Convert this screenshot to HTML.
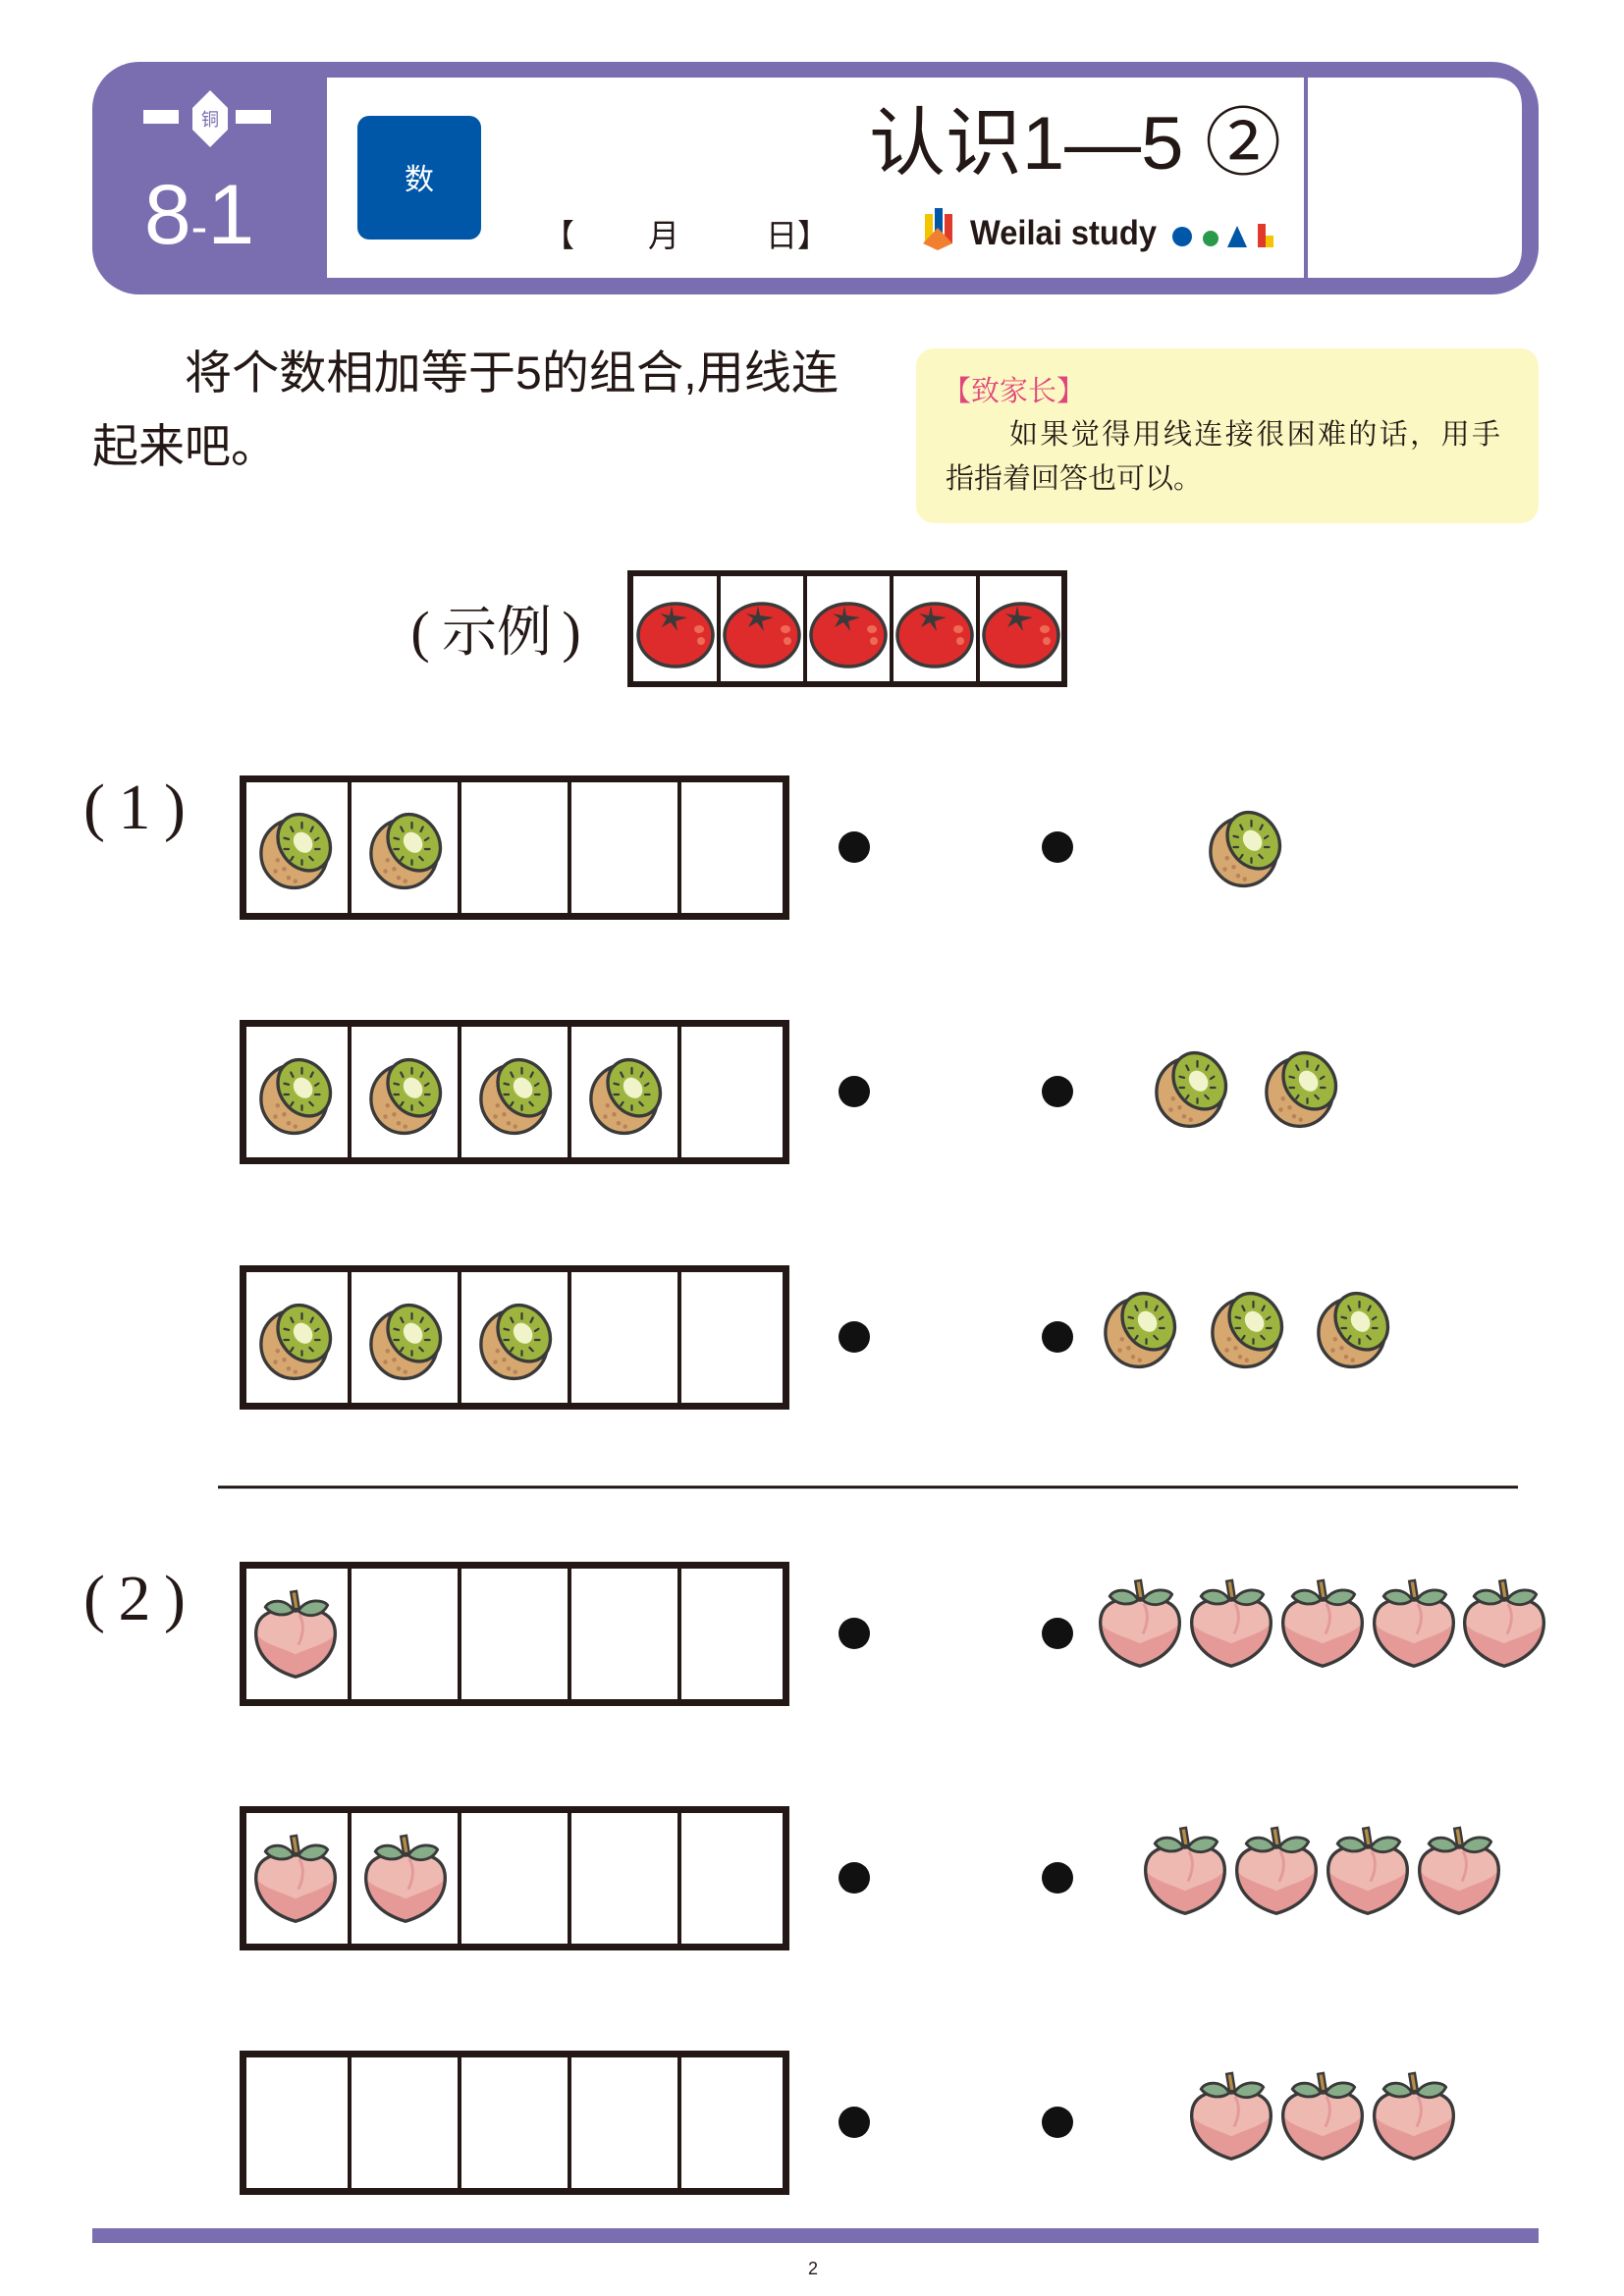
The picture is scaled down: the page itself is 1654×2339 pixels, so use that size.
<!DOCTYPE html>
<html><head><meta charset="utf-8"><style>
html,body{margin:0;padding:0;background:#fff}
svg{display:block}
text{font-family:"Liberation Sans","Noto Sans CJK SC",sans-serif}
.serif{font-family:"Liberation Serif","Noto Serif CJK SC",serif}
</style></head><body>
<svg width="1654" height="2339" viewBox="0 0 1654 2339" xmlns="http://www.w3.org/2000/svg">
<defs>
<symbol id="kiwi" viewBox="-40 -40 80 80" overflow="visible">
 <ellipse cx="-3" cy="4" rx="30" ry="31" fill="#d6a870" stroke="#3a3a3a" stroke-width="3"/>
 <g fill="#b8825a"><circle cx="-18" cy="10" r="2"/><circle cx="-12" cy="18" r="2"/><circle cx="-20" cy="20" r="2"/><circle cx="-8" cy="26" r="2"/><circle cx="-2" cy="29" r="2"/></g>
 <ellipse cx="6" cy="-6" rx="22" ry="27" transform="rotate(-35 6 -6)" fill="#9db53f" stroke="#3a3a3a" stroke-width="3"/>
 <ellipse cx="5" cy="-6" rx="8" ry="10" transform="rotate(-35 5 -6)" fill="#f1f4cb"/>
 <g stroke="#3a3a3a" stroke-width="2" stroke-linecap="round">
  <line x1="-6" y1="-20" x2="-4" y2="-16"/><line x1="4" y1="-24" x2="4" y2="-19"/><line x1="14" y1="-20" x2="12" y2="-16"/><line x1="19" y1="-10" x2="16" y2="-8"/><line x1="20" y1="0" x2="16" y2="0"/><line x1="14" y1="10" x2="11" y2="7"/><line x1="4" y1="14" x2="4" y2="10"/><line x1="-6" y1="10" x2="-4" y2="7"/><line x1="-12" y1="0" x2="-8" y2="0"/><line x1="-12" y1="-10" x2="-8" y2="-9"/>
 </g>
</symbol>
<symbol id="peach" viewBox="-50 -50 100 100" overflow="visible">
 <path d="M0,44 C-28,36 -42,18 -42,-2 C-42,-24 -22,-30 0,-26 C22,-30 42,-24 42,-2 C42,18 28,36 0,44Z" fill="#e69a98"/>
 <path d="M-42,-2 C-42,-24 -22,-30 0,-26 C22,-30 42,-24 42,-2 C36,8 18,12 0,20 C-18,12 -36,8 -42,-2Z" fill="#edb9b0"/>
 <path d="M0,44 C-28,36 -42,18 -42,-2 C-42,-24 -22,-30 0,-26 C22,-30 42,-24 42,-2 C42,18 28,36 0,44Z" fill="none" stroke="#3a3a3a" stroke-width="3.5"/>
 <path d="M4,-22 C10,-12 8,0 3,10" stroke="#e39a9a" stroke-width="3" fill="none"/>
 <path d="M-2,-28 L-5,-46 L1,-47 L4,-28Z" fill="#b68c45" stroke="#3a3a3a" stroke-width="2.5"/>
 <path d="M-2,-26 C-10,-40 -28,-38 -32,-30 C-24,-20 -10,-20 -2,-26Z" fill="#86ac88" stroke="#3a3a3a" stroke-width="3"/>
 <path d="M3,-26 C12,-40 30,-38 34,-32 C28,-20 12,-18 3,-26Z" fill="#86ac88" stroke="#3a3a3a" stroke-width="3"/>
</symbol>
<symbol id="tomato" viewBox="-40 -35 80 70" overflow="visible">
 <ellipse cx="0" cy="0" rx="38" ry="32" fill="#de2c2c" stroke="#3a3a3a" stroke-width="3.5"/>
 <path d="M-4,-30 L-2,-20 L12,-18 L0,-14 L2,-4 L-5,-13 L-14,-8 L-9,-17 L-16,-22 L-6,-20Z" fill="#3a3a3a"/>
 <ellipse cx="24" cy="-6" rx="5" ry="4" fill="#ee6a55"/><ellipse cx="26" cy="6" rx="4" ry="4" fill="#ee6a55"/>
</symbol>
<g id="frame">
 <rect x="247.5" y="3.5" width="553" height="140" fill="#fff" stroke="#231815" stroke-width="7"/>
 <g stroke="#231815" stroke-width="4"><line x1="356" y1="4" x2="356" y2="144"/><line x1="468" y1="4" x2="468" y2="144"/><line x1="580" y1="4" x2="580" y2="144"/><line x1="692" y1="4" x2="692" y2="144"/></g>
 <circle cx="870" cy="73" r="16" fill="#111"/><circle cx="1077" cy="73" r="16" fill="#111"/>
</g>
</defs>

<!-- header -->
<rect x="94" y="63" width="1473" height="237" rx="48" fill="#7a6eb0"/>
<path d="M333,79 H1520 Q1550,79 1550,109 V253 Q1550,283 1520,283 H333Z" fill="#fff"/>
<line x1="1330" y1="79" x2="1330" y2="283" stroke="#7a6eb0" stroke-width="4"/>
<g fill="#fff"><rect x="146" y="112" width="36" height="14"/><rect x="240" y="112" width="36" height="14"/><polygon points="214,92 232,110 232,132 214,150 196,132 196,110"/></g>
<text x="214" y="128" font-size="18" fill="#7a6eb0" text-anchor="middle">铜</text>
<text x="203" y="248" font-size="86" fill="#fff" text-anchor="middle">8<tspan font-size="50">-</tspan>1</text>
<rect x="364" y="118" width="126" height="126" rx="12" fill="#0057a8"/>
<text x="427" y="193" font-size="30" fill="#fff" text-anchor="middle">数</text>
<text x="885" y="172" font-size="76" fill="#231815" textLength="420" lengthAdjust="spacingAndGlyphs">认识1—5 ②</text>
<text x="553" y="251" font-size="32" fill="#231815">【</text>
<text x="660" y="251" font-size="32" fill="#231815">月</text>
<text x="780" y="251" font-size="32" fill="#231815">日】</text>
<g><rect x="942" y="218" width="8" height="30" fill="#f2c500"/><rect x="952" y="212" width="8" height="36" fill="#0057a8"/><rect x="962" y="218" width="8" height="30" fill="#e23a2a"/><polygon points="940,248 955,232 970,248 955,255" fill="#f08030"/></g>
<text x="988" y="249" font-size="35" font-weight="bold" fill="#231815" textLength="190" lengthAdjust="spacingAndGlyphs">Weilai study</text>
<g><circle cx="1204" cy="241" r="10" fill="#0057a8"/><circle cx="1233" cy="243" r="8" fill="#2a9a4a"/><polygon points="1250,252 1260,230 1270,252" fill="#0057a8"/><rect x="1281" y="228" width="8" height="24" fill="#e23a2a"/><rect x="1289" y="240" width="8" height="12" fill="#f2c500"/></g>

<!-- instruction -->
<text x="188" y="396" font-size="47" fill="#231815" textLength="666" lengthAdjust="spacingAndGlyphs">将个数相加等于5的组合,用线连</text>
<text x="94" y="471" font-size="47" fill="#231815">起来吧。</text>
<rect x="933" y="355" width="634" height="178" rx="18" fill="#fcf8c3"/>
<text x="960" y="408" font-size="29" fill="#e0457b" class="serif">【致家长】</text>
<text x="1028" y="452" font-size="29" fill="#231815" class="serif" textLength="500">如果觉得用线连接很困难的话，用手</text>
<text x="963" y="497" font-size="29" fill="#231815" class="serif">指指着回答也可以。</text>

<!-- example -->
<text x="428" y="663" font-size="58" fill="#231815" class="serif" text-anchor="middle">(</text>
<text x="450" y="663" font-size="56" fill="#231815" class="serif">示例</text>
<text x="582" y="663" font-size="58" fill="#231815" class="serif" text-anchor="middle">)</text>
<rect x="642" y="584" width="442" height="113" fill="#fff" stroke="#231815" stroke-width="6"/>
<g stroke="#231815" stroke-width="4"><line x1="732" y1="584" x2="732" y2="697"/><line x1="820" y1="584" x2="820" y2="697"/><line x1="908" y1="584" x2="908" y2="697"/><line x1="996" y1="584" x2="996" y2="697"/></g>
<use href="#tomato" x="648" y="612" width="80" height="70"/>
<use href="#tomato" x="736" y="612" width="80" height="70"/>
<use href="#tomato" x="824" y="612" width="80" height="70"/>
<use href="#tomato" x="912" y="612" width="80" height="70"/>
<use href="#tomato" x="1000" y="612" width="80" height="70"/>

<!-- section 1 -->
<g class="serif" font-size="66" fill="#231815" text-anchor="middle">
<text x="96" y="844" class="serif">(</text><text x="137" y="844" class="serif">1</text><text x="178" y="844" class="serif">)</text>
<text x="96" y="1650" class="serif">(</text><text x="137" y="1650" class="serif">2</text><text x="178" y="1650" class="serif">)</text>
</g>
<use href="#frame" y="790"/>
<use href="#frame" y="1039"/>
<use href="#frame" y="1289"/>
<use href="#kiwi" x="258" y="820" width="90" height="90"/><use href="#kiwi" x="370" y="820" width="90" height="90"/>
<use href="#kiwi" x="258" y="1070" width="90" height="90"/><use href="#kiwi" x="370" y="1070" width="90" height="90"/><use href="#kiwi" x="482" y="1070" width="90" height="90"/><use href="#kiwi" x="594" y="1070" width="90" height="90"/>
<use href="#kiwi" x="258" y="1320" width="90" height="90"/><use href="#kiwi" x="370" y="1320" width="90" height="90"/><use href="#kiwi" x="482" y="1320" width="90" height="90"/>
<use href="#kiwi" x="1225" y="818" width="90" height="90"/>
<use href="#kiwi" x="1170" y="1063" width="90" height="90"/><use href="#kiwi" x="1282" y="1063" width="90" height="90"/>
<use href="#kiwi" x="1118" y="1308" width="90" height="90"/><use href="#kiwi" x="1227" y="1308" width="90" height="90"/><use href="#kiwi" x="1335" y="1308" width="90" height="90"/>

<line x1="222" y1="1515" x2="1546" y2="1515" stroke="#231815" stroke-width="3"/>

<!-- section 2 -->
<use href="#frame" y="1591"/>
<use href="#frame" y="1840"/>
<use href="#frame" y="2089"/>
<use href="#peach" x="253" y="1618" width="96" height="96"/>
<use href="#peach" x="253" y="1867" width="96" height="96"/><use href="#peach" x="365" y="1867" width="96" height="96"/>
<use href="#peach" x="1113" y="1607" width="96" height="96"/><use href="#peach" x="1206" y="1607" width="96" height="96"/><use href="#peach" x="1299" y="1607" width="96" height="96"/><use href="#peach" x="1392" y="1607" width="96" height="96"/><use href="#peach" x="1484" y="1607" width="96" height="96"/>
<use href="#peach" x="1159" y="1859" width="96" height="96"/><use href="#peach" x="1252" y="1859" width="96" height="96"/><use href="#peach" x="1345" y="1859" width="96" height="96"/><use href="#peach" x="1438" y="1859" width="96" height="96"/>
<use href="#peach" x="1206" y="2109" width="96" height="96"/><use href="#peach" x="1299" y="2109" width="96" height="96"/><use href="#peach" x="1392" y="2109" width="96" height="96"/>

<!-- footer -->
<rect x="94" y="2270" width="1473" height="15" fill="#7a6eb0"/>
<text x="828" y="2317" font-size="18" fill="#231815" text-anchor="middle">2</text>
</svg>
</body></html>
